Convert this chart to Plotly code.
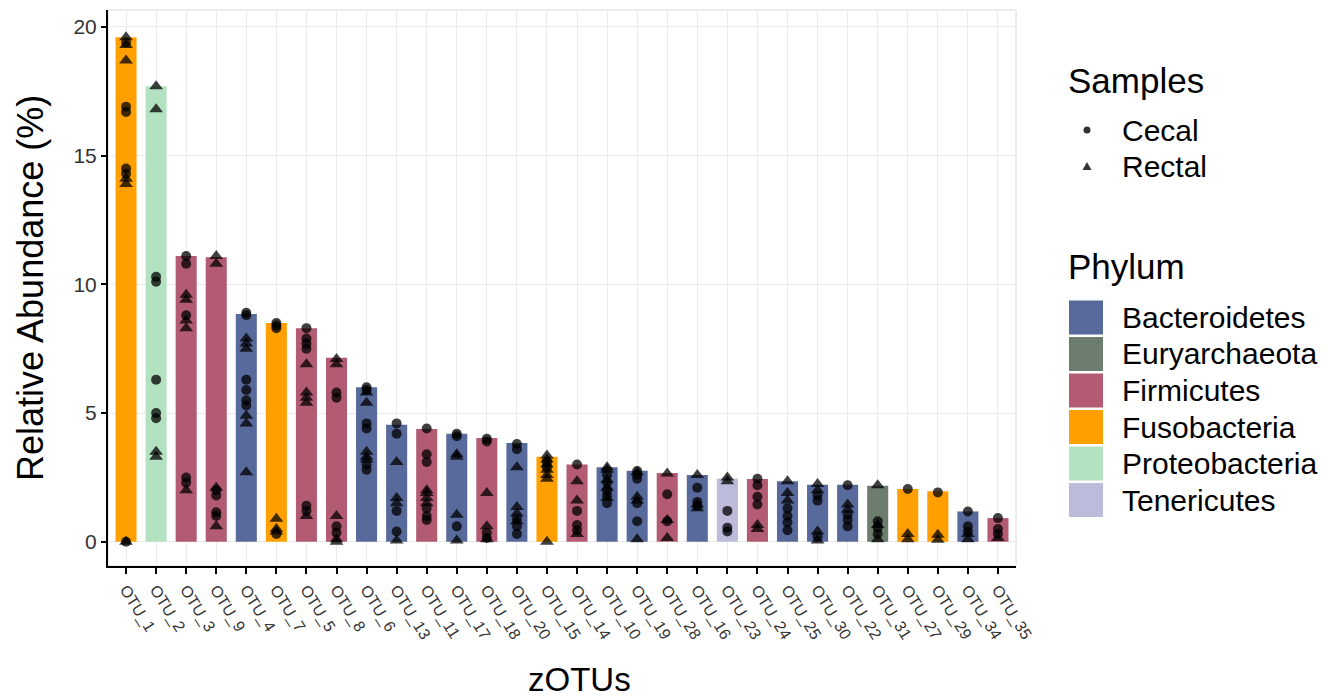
import plotly.graph_objects as go

categories = ["OTU_1", "OTU_2", "OTU_3", "OTU_9", "OTU_4", "OTU_7", "OTU_5", "OTU_8",
              "OTU_6", "OTU_13", "OTU_11", "OTU_17", "OTU_18", "OTU_20", "OTU_15",
              "OTU_14", "OTU_10", "OTU_19", "OTU_28", "OTU_16", "OTU_23", "OTU_24",
              "OTU_25", "OTU_30", "OTU_22", "OTU_31", "OTU_27", "OTU_29", "OTU_34", "OTU_35"]

phylum = ["Fusobacteria", "Proteobacteria", "Firmicutes", "Firmicutes", "Bacteroidetes",
          "Fusobacteria", "Firmicutes", "Firmicutes", "Bacteroidetes", "Bacteroidetes",
          "Firmicutes", "Bacteroidetes", "Firmicutes", "Bacteroidetes", "Fusobacteria",
          "Firmicutes", "Bacteroidetes", "Bacteroidetes", "Firmicutes", "Bacteroidetes",
          "Tenericutes", "Firmicutes", "Bacteroidetes", "Bacteroidetes", "Bacteroidetes",
          "Euryarchaeota", "Fusobacteria", "Fusobacteria", "Bacteroidetes", "Firmicutes"]

bar_abundance = [19.6, 17.7, 11.1, 11.05, 8.85, 8.5, 8.3, 7.15, 6.0, 4.55, 4.38, 4.2, 4.03,
                 3.84, 3.3, 3.0, 2.9, 2.76, 2.67, 2.6, 2.46, 2.44, 2.35, 2.22, 2.22, 2.18,
                 2.05, 1.96, 1.18, 0.92]

cecal = [
    [19.4, 16.9, 16.7, 14.5, 14.3, 0.0],
    [10.3, 10.1, 6.3, 5.0, 4.8],
    [11.1, 10.8, 8.8, 2.5, 2.3],
    [2.0, 1.8, 1.15, 1.0],
    [8.9, 8.8, 6.3, 5.9, 5.5, 5.3],
    [8.5, 8.4, 8.3, 0.3],
    [8.3, 7.9, 7.7, 7.5, 1.4, 1.2],
    [5.8, 5.6, 0.6, 0.35],
    [6.0, 5.9, 4.6, 4.4, 3.0, 2.8],
    [4.6, 4.2, 1.2, 0.4],
    [4.4, 3.4, 3.1, 1.3, 1.0, 0.85],
    [4.2, 4.1, 0.6],
    [4.0, 3.9, 0.35, 0.15],
    [3.8, 3.6, 0.9, 0.6, 0.3],
    [3.1, 2.9],
    [3.0, 1.2, 0.65, 0.45],
    [2.6, 2.3, 2.0, 1.8, 1.5],
    [2.75, 2.6, 2.45, 1.5, 0.8],
    [1.85, 0.8],
    [2.1, 1.55, 1.4],
    [1.2, 0.55, 0.4],
    [2.45, 2.2, 1.75, 1.45],
    [1.3, 1.0, 0.75, 0.45],
    [1.8, 1.6, 0.2],
    [2.2, 1.05, 0.85, 0.6],
    [0.8, 0.55, 0.3],
    [2.05],
    [1.92],
    [1.18, 0.6, 0.4],
    [0.92, 0.5, 0.3],
]

rectal = [
    [19.6, 19.3, 18.7, 14.1, 13.9, 0.0],
    [17.7, 16.8, 3.5, 3.3],
    [9.6, 9.4, 8.6, 8.3, 2.0],
    [11.1, 10.8, 2.1, 0.6],
    [7.9, 7.7, 7.5, 4.9, 4.6, 2.7],
    [0.9, 0.5, 0.4],
    [6.9, 5.8, 5.6, 5.4, 1.0],
    [7.1, 6.9, 1.0, 0.1, 0.0],
    [5.8, 5.4, 3.5, 3.3, 3.2],
    [3.1, 1.7, 1.5, 0.05],
    [2.0, 1.9, 1.7, 1.5],
    [3.4, 3.3, 1.05, 0.05],
    [1.9, 0.6, 0.1],
    [2.9, 1.35, 1.1, 0.8],
    [3.35, 3.2, 3.0, 2.8, 2.6, 2.45, 0.0],
    [2.35, 1.6, 0.3],
    [2.9, 2.8, 2.4, 2.1, 1.7],
    [2.7, 1.75, 1.6, 0.1],
    [2.65, 0.85, 0.15],
    [2.6, 1.45, 1.3],
    [2.5, 2.35],
    [0.65, 0.5],
    [2.35, 1.9, 1.6],
    [2.25, 2.0, 0.4, 0.05],
    [1.45, 1.25],
    [2.2, 0.65, 0.1],
    [0.3, 0.1],
    [0.27, 0.08],
    [0.3, 0.1],
    [0.15],
]

phylum_order = ["Bacteroidetes", "Euryarchaeota", "Firmicutes", "Fusobacteria",
                "Proteobacteria", "Tenericutes"]
phylum_colors = {
    "Bacteroidetes": "#58699B",
    "Euryarchaeota": "#6C7D6E",
    "Firmicutes": "#B35B73",
    "Fusobacteria": "#FFA000",
    "Proteobacteria": "#B3E2C1",
    "Tenericutes": "#BDBBDB",
}

FONT = "Liberation Sans, Arial, Helvetica, sans-serif"
W, H = 1328, 700
L, R, T, B = 108, 312, 10, 134
PW, PH = W - L - R, H - T - B


def px(xp):
    return (xp - L) / PW


def py(yp):
    return (H - B - yp) / PH


fig = go.Figure()

fig.add_trace(go.Bar(
    x=categories, y=bar_abundance,
    marker=dict(color=[phylum_colors[p] for p in phylum], line=dict(width=0)),
    width=0.7, showlegend=False, hoverinfo="x+y",
))

cx, cy, rx, ry = [], [], [], []
for cat, vals in zip(categories, cecal):
    cx += [cat] * len(vals)
    cy += vals
for cat, vals in zip(categories, rectal):
    rx += [cat] * len(vals)
    ry += vals

fig.add_trace(go.Scatter(x=cx, y=cy, mode="markers", name="Cecal", showlegend=False,
                         marker=dict(symbol="circle", size=10, color="rgba(0,0,0,0.75)",
                                     line=dict(width=0))))
fig.add_trace(go.Scatter(x=rx, y=ry, mode="markers", name="Rectal", showlegend=False,
                         marker=dict(symbol="triangle-up", size=12, color="rgba(0,0,0,0.75)",
                                     line=dict(width=0))))

shapes = [
    dict(type="rect", xref="paper", yref="paper", x0=0, x1=1, y0=0, y1=1,
         line=dict(color="#DADADA", width=1), layer="below"),
]
annotations = []

# axis titles
annotations.append(dict(text="zOTUs", xref="paper", yref="paper", x=px(579), y=py(679),
                        xanchor="center", yanchor="middle", showarrow=False,
                        font=dict(size=33, color="#000", family=FONT)))
annotations.append(dict(text="Relative Abundance (%)", xref="paper", yref="paper",
                        x=px(30), y=py(288), textangle=-90,
                        xanchor="center", yanchor="middle", showarrow=False,
                        font=dict(size=36, color="#000", family=FONT)))

# Custom legend: Samples
annotations.append(dict(text="Samples", xref="paper", yref="paper", x=px(1066), y=py(80),
                        xanchor="left", yanchor="middle", showarrow=False,
                        font=dict(size=35, color="#000", family=FONT)))
shapes.append(dict(type="circle", xref="paper", yref="paper",
                   x0=px(1083.5), x1=px(1090.5), y0=py(133.5), y1=py(126.5),
                   fillcolor="#333", line=dict(width=0)))
annotations.append(dict(text="Cecal", xref="paper", yref="paper", x=px(1120), y=py(130),
                        xanchor="left", yanchor="middle", showarrow=False,
                        font=dict(size=30, color="#000", family=FONT)))
shapes.append(dict(type="path", xref="paper", yref="paper",
                   path=f"M {px(1082.5)} {py(170)} L {px(1091.5)} {py(170)} L {px(1087)} {py(162)} Z",
                   fillcolor="#333", line=dict(width=0)))
annotations.append(dict(text="Rectal", xref="paper", yref="paper", x=px(1120), y=py(166),
                        xanchor="left", yanchor="middle", showarrow=False,
                        font=dict(size=30, color="#000", family=FONT)))

# Custom legend: Phylum
annotations.append(dict(text="Phylum", xref="paper", yref="paper", x=px(1066), y=py(266),
                        xanchor="left", yanchor="middle", showarrow=False,
                        font=dict(size=35, color="#000", family=FONT)))
for i, ph in enumerate(phylum_order):
    yc = 317.5 + i * 36.5
    shapes.append(dict(type="rect", xref="paper", yref="paper",
                       x0=px(1069), x1=px(1103), y0=py(yc + 17), y1=py(yc - 17),
                       fillcolor=phylum_colors[ph], line=dict(width=0)))
    annotations.append(dict(text=ph, xref="paper", yref="paper", x=px(1120), y=py(yc),
                            xanchor="left", yanchor="middle", showarrow=False,
                            font=dict(size=30, color="#000", family=FONT)))

fig.update_layout(
    width=W, height=H,
    margin=dict(l=L, r=R, t=T, b=B, pad=0, autoexpand=False),
    paper_bgcolor="white", plot_bgcolor="white",
    font=dict(family=FONT, color="#000"),
    bargap=0.3,
    shapes=shapes, annotations=annotations,
    showlegend=False,
    xaxis=dict(
        type="category", categoryorder="array", categoryarray=categories,
        range=[-0.6, len(categories) - 0.4],
        automargin=False,
        showgrid=True, gridcolor="#EBEBEB", gridwidth=1,
        showline=True, linecolor="#000", linewidth=2,
        ticks="outside", ticklen=6, tickwidth=2, tickcolor="#000",
        tickangle=58, tickfont=dict(size=16, color="#333", family=FONT),
        zeroline=False,
    ),
    yaxis=dict(
        range=[-0.94, 20.66],
        tickvals=[0, 5, 10, 15, 20],
        automargin=False,
        showgrid=True, gridcolor="#EBEBEB", gridwidth=1,
        showline=True, linecolor="#000", linewidth=2,
        ticks="outside", ticklen=5, tickwidth=2, tickcolor="#000",
        tickfont=dict(size=21, color="#333", family=FONT),
        zeroline=False,
    ),
)

fig.write_html("out.html", config={"displayModeBar": False},
               post_script="document.body.style.margin='0';")
